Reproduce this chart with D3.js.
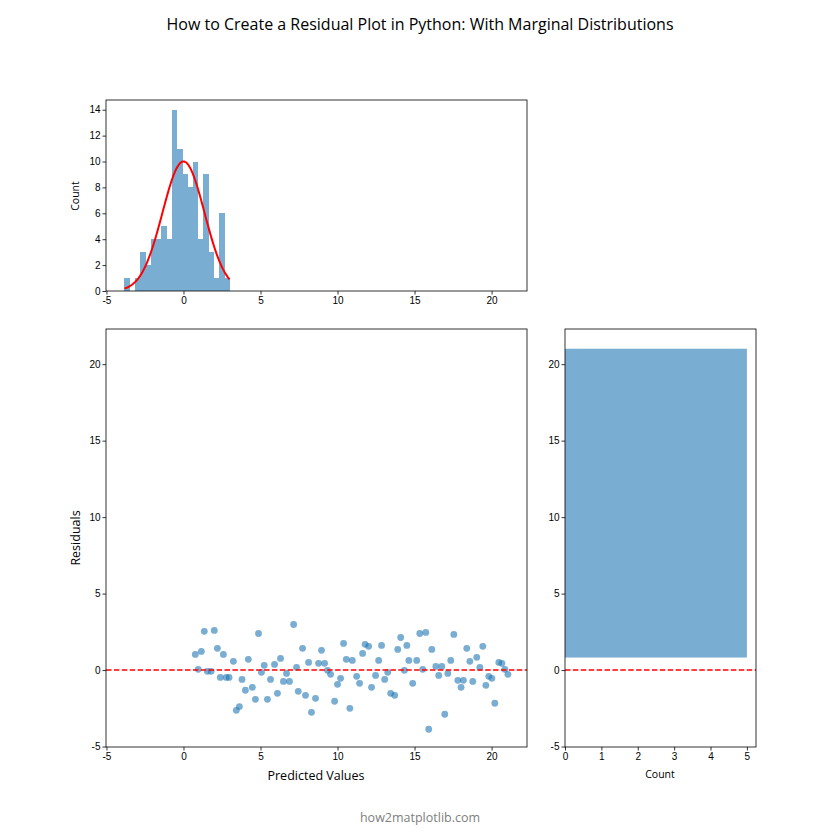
<!DOCTYPE html>
<html><head><meta charset="utf-8">
<script src="https://cdn.jsdelivr.net/npm/d3@7"></script>
<style>body{margin:0;background:#fff}svg{font-family:"Open Sans","DejaVu Sans",sans-serif}</style>
</head><body>
<script>
// Data
const predicted = [0.77,0.96,1.16,1.35,1.55,1.79,2.00,2.20,2.39,2.59,2.78,2.96,3.24,3.43,3.63,3.80,4.02,4.21,4.47,4.67,4.87,5.06,5.24,5.45,5.65,5.91,6.10,6.30,6.49,6.69,6.88,7.15,7.34,7.45,7.73,7.92,8.12,8.31,8.57,8.77,8.96,9.16,9.35,9.55,9.81,10.00,10.20,10.39,10.57,10.80,10.96,11.24,11.43,11.63,11.79,12.02,12.21,12.47,12.67,12.86,13.06,13.26,13.45,13.71,13.91,14.10,14.34,14.50,14.63,14.88,15.14,15.34,15.53,15.73,15.92,16.12,16.38,16.57,16.77,16.96,17.16,17.35,17.55,17.81,18.02,18.17,18.39,18.59,18.78,19.04,19.24,19.43,19.63,19.82,20.02,20.21,20.47,20.67,20.86,21.06];
const residuals = [1.02,0.05,1.22,2.53,-0.08,-0.08,2.59,1.42,-0.48,1.02,-0.48,-0.48,0.57,-2.63,-2.39,-0.61,-1.32,0.70,-1.13,-1.91,2.39,-0.15,0.31,-1.91,-0.61,0.37,-1.52,0.76,-0.74,-0.22,-0.74,2.98,0.18,-1.39,1.42,-1.65,0.50,-2.76,-1.85,0.44,1.29,0.44,-0.02,-0.28,-2.04,-0.93,-0.54,1.74,0.70,-2.50,0.63,-0.41,-0.87,1.09,1.68,1.55,-1.13,-0.35,0.63,1.61,-0.61,-0.15,-1.52,-1.65,1.35,2.13,-0.02,1.61,0.63,-0.87,0.63,2.39,0.05,2.46,-3.87,1.35,0.24,-0.35,0.24,-2.89,-0.22,0.63,2.33,-0.67,-1.13,-0.67,1.42,0.57,-0.74,0.83,0.18,1.55,-1.00,-0.41,-0.54,-2.17,0.50,0.44,0.05,-0.28];
const histStart = -3.83, histBinWidth = 0.341;
const histCounts = [1,0,1,3,2,4,4,5,4,14,11,9,8,10,4,9,3,1,6,1];
const normMean = 0.0, normStd = 1.36, normN = 100;
const sideBins = [{y0: 0.82, y1: 21.01, count: 5}];
const axisTicks = [-5, 0, 5, 10, 15, 20];
const countTicksTop = [0,2,4,6,8,10,12,14];
const countTicksSide = [0,1,2,3,4,5];

const W = 840, H = 840;
const blue = "#1f77b4";
const svg = d3.select("body").append("svg").attr("width", W).attr("height", H);
const fmt = d => String(d);

const lim = [-5.03, 22.3];
const xMain = d3.scaleLinear().domain(lim).range([106, 527]);
const yMain = d3.scaleLinear().domain(lim).range([747, 329]);
const yTop = d3.scaleLinear().domain([0, 14.75]).range([291, 100]);
const xSide = d3.scaleLinear().domain([0, 5.25]).range([565, 756]);

function styleAxis(g) {
  g.selectAll("path").remove();
  g.selectAll("line").attr("stroke", "#000").attr("stroke-width", 0.8);
  g.selectAll("text").attr("font-size", 10).attr("fill", "#000");
}
function frame(x0, x1, y0, y1) {
  svg.append("rect").attr("x", x0).attr("y", y0).attr("width", x1 - x0).attr("height", y1 - y0)
    .attr("fill", "none").attr("stroke", "#000").attr("stroke-width", 0.8);
}

// Title
svg.append("text").attr("x", 420).attr("y", 30).attr("text-anchor", "middle")
  .attr("font-size", 16).text("How to Create a Residual Plot in Python: With Marginal Distributions");

// ---- Top histogram ----
const topG = svg.append("g");
topG.selectAll("rect.bar").data(histCounts).join("rect")
  .attr("shape-rendering", "crispEdges")
  .attr("x", (d, i) => xMain(histStart + i * histBinWidth))
  .attr("width", (d, i) => xMain(histStart + (i + 1) * histBinWidth) - xMain(histStart + i * histBinWidth) + 0.3)
  .attr("y", d => yTop(d)).attr("height", d => yTop(0) - yTop(d))
  .attr("fill", "#79add2");
const xmin = histStart, xmax = histStart + histCounts.length * histBinWidth;
const curve = d3.range(0, 101).map(i => {
  const x = xmin + (xmax - xmin) * i / 100;
  const pdf = Math.exp(-0.5 * ((x - normMean) / normStd) ** 2) / (normStd * Math.sqrt(2 * Math.PI));
  return [x, pdf * normN * histBinWidth];
});
topG.append("path").datum(curve)
  .attr("d", d3.line().x(d => xMain(d[0])).y(d => yTop(d[1])))
  .attr("fill", "none").attr("stroke", "red").attr("stroke-width", 2);
frame(106, 527, 100, 291);
svg.append("g").attr("transform", "translate(0,291)")
  .call(d3.axisBottom(xMain).tickValues(axisTicks).tickFormat(fmt).tickSize(3.5).tickPadding(2)).call(styleAxis);
svg.append("g").attr("transform", "translate(106,0)")
  .call(d3.axisLeft(yTop).tickValues(countTicksTop).tickFormat(fmt).tickSize(3.5).tickPadding(2)).call(styleAxis);
svg.append("text").attr("transform", "translate(79,196) rotate(-90)").attr("text-anchor", "middle")
  .attr("font-size", 10.5).text("Count");

// ---- Main scatter ----
const clipId = "mainclip";
svg.append("clipPath").attr("id", clipId).append("rect").attr("x", 106).attr("y", 329).attr("width", 421).attr("height", 418);
const mainG = svg.append("g").attr("clip-path", `url(#${clipId})`);
mainG.selectAll("circle").data(predicted).join("circle")
  .attr("cx", d => xMain(d)).attr("cy", (d, i) => yMain(residuals[i])).attr("r", 3.4)
  .attr("fill", blue).attr("fill-opacity", 0.6);
mainG.append("line").attr("x1", 106).attr("x2", 527).attr("y1", yMain(0)).attr("y2", yMain(0))
  .attr("stroke", "red").attr("stroke-width", 1.5).attr("stroke-dasharray", "5.5,2.4");
frame(106, 527, 329, 747);
svg.append("g").attr("transform", "translate(0,747)")
  .call(d3.axisBottom(xMain).tickValues(axisTicks).tickFormat(fmt).tickSize(3.5).tickPadding(2)).call(styleAxis);
svg.append("g").attr("transform", "translate(106,0)")
  .call(d3.axisLeft(yMain).tickValues(axisTicks).tickFormat(fmt).tickSize(3.5).tickPadding(2)).call(styleAxis);
svg.append("text").attr("x", 316).attr("y", 780).attr("text-anchor", "middle").attr("font-size", 12.5).text("Predicted Values");
svg.append("text").attr("transform", "translate(80,538) rotate(-90)").attr("text-anchor", "middle")
  .attr("font-size", 12.5).text("Residuals");

// ---- Side histogram ----
const sideG = svg.append("g");
sideG.selectAll("rect").data(sideBins).join("rect")
  .attr("x", xSide(0)).attr("width", d => xSide(d.count) - xSide(0))
  .attr("y", d => yMain(d.y1)).attr("height", d => yMain(d.y0) - yMain(d.y1))
  .attr("fill", "#79add2");
sideG.append("line").attr("x1", 565).attr("x2", 756).attr("y1", yMain(0)).attr("y2", yMain(0))
  .attr("stroke", "red").attr("stroke-width", 1.5).attr("stroke-dasharray", "5.5,2.4");
frame(565, 756, 329, 747);
svg.append("g").attr("transform", "translate(0,747)")
  .call(d3.axisBottom(xSide).tickValues(countTicksSide).tickFormat(fmt).tickSize(3.5).tickPadding(2)).call(styleAxis);
svg.append("g").attr("transform", "translate(565,0)")
  .call(d3.axisLeft(yMain).tickValues(axisTicks).tickFormat(fmt).tickSize(3.5).tickPadding(2)).call(styleAxis);
svg.append("text").attr("x", 660).attr("y", 778).attr("text-anchor", "middle").attr("font-size", 10.5).text("Count");

// Footer
svg.append("text").attr("x", 420).attr("y", 822).attr("text-anchor", "middle")
  .attr("font-size", 12.5).attr("fill", "#808080").text("how2matplotlib.com");
</script>
</body></html>
